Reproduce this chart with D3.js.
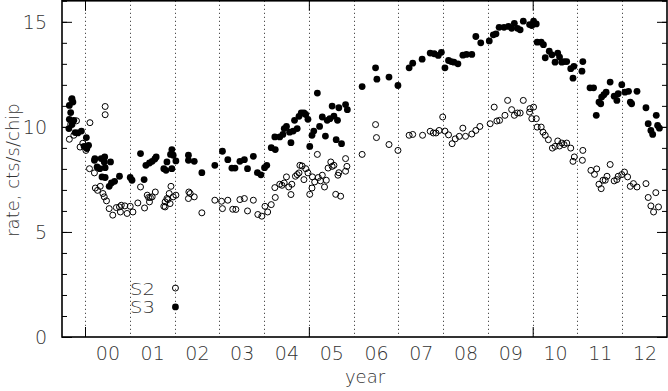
<!DOCTYPE html>
<html><head><meta charset="utf-8">
<script src="https://cdn.jsdelivr.net/npm/d3@7"></script>
<style>
html,body{margin:0;padding:0;background:#fff;}
svg{display:block;}
text{font-family:"DejaVu Sans",sans-serif;font-weight:200;fill:#333;}
</style></head>
<body>
<svg id="chart" width="668" height="391"></svg>
<script>
// ---- data ----
const yearStarts = [2000,2001,2002,2003,2004,2005,2006,2007,2008,2009,2010,2011,2012];
const yearLabels = ["00","01","02","03","04","05","06","07","08","09","10","11","12"];
const xMajorTicks = [2000,2005,2010];
const yLabelTicks = [0,5,10,15];
const yMinorTicks = [0,1,2,3,4,5,6,7,8,9,10,11,12,13,14,15,16];
const seriesNames = ["S2","S3"];
const legendRates = [2.33,1.43];
const legendYear = 2002.02;

// S3 (filled): [year, rate]
const s3 = [
[1999.71,11.34],[1999.73,11.18],[1999.65,11.02],[1999.68,10.68],[1999.65,10.36],[1999.75,10.31],
[1999.71,10.11],[1999.64,9.92],[1999.78,9.73],[1999.84,9.71],[1999.92,9.80],[2000.03,9.49],
[1999.98,9.07],[2000.08,9.12],[2000.04,8.97],[2000.22,8.49],[2000.21,8.41],[2000.36,8.49],
[2000.44,8.57],[2000.43,8.33],[2000.57,8.33],[2000.27,8.09],[2000.45,8.06],[2000.33,8.01],
[2000.38,7.62],[2000.45,7.59],[2000.54,7.17],[2000.59,7.33],[2000.66,7.41],[2000.77,7.65],
[2001.01,7.59],[2001.05,7.46],[2001.24,8.73],[2001.32,7.49],[2001.36,8.17],[2001.44,8.28],
[2001.50,8.36],[2001.56,8.47],[2001.59,8.57],[2001.76,8.01],[2001.83,8.33],[2001.91,8.69],
[2001.94,8.92],[2001.81,7.93],[2001.97,8.65],[2001.94,8.01],[2002.03,8.38],[2002.31,8.65],
[2002.31,8.41],[2002.44,8.36],[2002.61,7.82],[2002.90,8.17],[2003.07,8.84],[2003.19,8.44],
[2003.28,8.04],[2003.35,8.04],[2003.46,8.36],[2003.56,8.44],[2003.63,8.01],[2003.76,8.60],
[2003.85,7.82],[2003.93,7.72],[2004.01,8.06],[2004.06,8.17],[2004.16,9.01],[2004.25,8.92],
[2004.24,9.52],[2004.35,9.52],[2004.42,9.64],[2004.45,9.92],[2004.50,10.02],[2004.60,9.25],
[2004.57,9.75],[2004.65,9.80],[2004.68,10.31],[2004.74,9.92],[2004.78,10.50],[2004.83,10.66],
[2004.89,10.66],[2004.93,10.59],[2004.98,10.36],[2005.02,9.07],[2005.07,9.60],[2005.11,9.80],
[2005.19,11.61],[2005.24,10.02],[2005.30,10.47],[2005.37,9.56],[2005.41,10.31],[2005.47,10.39],
[2005.52,10.99],[2005.56,10.51],[2005.64,10.31],[2005.67,10.91],[2005.61,9.39],[2005.73,9.20],
[2005.82,11.06],[2005.86,10.82],[2006.19,11.92],[2006.49,12.81],[2006.52,12.27],[2006.79,12.37],
[2006.99,11.97],[2007.24,12.81],[2007.32,13.03],[2007.53,13.22],[2007.71,13.51],[2007.80,13.48],
[2007.89,13.40],[2007.96,13.55],[2008.04,12.81],[2008.12,13.16],[2008.18,13.11],[2008.24,13.08],
[2008.33,13.00],[2008.44,13.41],[2008.52,13.45],[2008.64,13.45],[2008.73,14.30],[2008.84,14.00],
[2009.03,14.09],[2009.12,14.38],[2009.18,14.43],[2009.25,14.74],[2009.36,14.74],[2009.46,14.78],
[2009.53,14.69],[2009.59,14.93],[2009.66,14.69],[2009.72,14.62],[2009.79,15.03],[2009.93,14.87],
[2009.98,14.82],[2010.02,15.03],[2010.08,14.90],[2010.10,14.03],[2010.19,14.03],[2010.24,13.91],
[2010.28,13.29],[2010.37,13.60],[2010.43,13.43],[2010.50,13.08],[2010.56,13.51],[2010.60,13.32],
[2010.65,13.08],[2010.70,13.11],[2010.76,13.11],[2010.85,12.77],[2010.90,12.32],[2010.92,12.88],
[2011.10,12.65],[2011.12,13.11],[2011.28,11.86],[2011.36,11.86],[2011.42,10.55],[2011.48,11.18],
[2011.52,11.10],[2011.54,11.42],[2011.59,11.53],[2011.64,11.65],[2011.73,12.13],[2011.82,11.46],
[2011.88,11.26],[2011.91,11.58],[2011.99,12.01],[2012.06,11.65],[2012.14,11.69],[2012.18,11.18],
[2012.21,11.10],[2012.33,11.69],[2012.53,10.91],[2012.58,10.15],[2012.64,9.83],[2012.68,9.64],
[2012.76,10.55],[2012.79,10.07],[2012.83,9.94]
];

// S2 (open): [year, rate]
const s2 = [
[1999.70,11.31],[1999.65,9.41],[1999.68,10.12],[1999.81,10.29],[1999.75,9.60],[1999.89,9.04],
[1999.95,9.22],[2000.02,8.88],[2000.11,10.20],[2000.45,10.97],[2000.45,10.58],[2000.10,8.01],
[2000.21,7.81],[2000.23,7.09],[2000.28,6.98],[2000.34,7.17],[2000.40,6.83],[2000.43,6.67],
[2000.48,6.48],[2000.54,6.11],[2000.62,5.80],[2000.70,6.16],[2000.77,6.19],[2000.81,6.27],
[2000.79,5.95],[2000.89,6.24],[2000.94,5.88],[2001.01,6.22],[2001.07,5.95],[2001.18,6.38],
[2001.24,7.14],[2001.33,6.14],[2001.39,6.75],[2001.42,6.64],[2001.46,6.64],[2001.44,6.43],
[2001.50,6.67],[2001.57,6.90],[2001.76,6.22],[2001.79,6.43],[2001.85,6.54],[2001.88,6.83],
[2001.92,7.17],[2001.83,6.59],[2001.90,6.35],[2001.97,6.67],[2002.03,6.75],[2001.79,6.19],
[2002.32,6.90],[2002.35,6.83],[2002.31,6.59],[2002.44,6.67],[2002.61,5.91],[2002.90,6.51],
[2003.05,6.46],[2003.19,6.51],[2003.07,6.11],[2003.30,6.08],[2003.37,6.07],[2003.46,6.54],
[2003.56,6.59],[2003.63,6.00],[2003.76,6.51],[2003.86,5.83],[2003.95,5.75],[2004.02,6.22],
[2004.08,5.95],[2004.16,6.30],[2004.25,6.64],[2004.24,7.11],[2004.35,7.27],[2004.40,7.22],
[2004.45,7.33],[2004.50,7.62],[2004.55,7.14],[2004.60,6.78],[2004.62,7.27],[2004.70,7.65],
[2004.74,7.73],[2004.78,7.81],[2004.80,8.17],[2004.85,8.14],[2004.89,7.49],[2004.93,8.01],
[2004.98,7.81],[2005.02,6.79],[2005.07,7.09],[2005.08,7.62],[2005.13,7.38],[2005.19,8.69],
[2005.21,7.59],[2005.26,7.43],[2005.30,7.70],[2005.35,7.14],[2005.39,7.46],[2005.43,8.04],
[2005.49,8.33],[2005.52,8.12],[2005.56,8.17],[2005.60,6.79],[2005.65,7.70],[2005.67,7.82],
[2005.71,6.70],[2005.82,7.89],[2005.85,8.12],[2005.82,8.49],[2006.19,8.69],[2006.49,10.11],
[2006.51,9.49],[2006.79,9.16],[2006.99,8.88],[2007.24,9.60],[2007.32,9.64],[2007.54,9.60],
[2007.71,9.79],[2007.78,9.71],[2007.84,9.71],[2007.91,9.83],[2007.99,10.47],[2008.04,9.80],
[2008.12,9.62],[2008.20,9.20],[2008.27,9.43],[2008.36,9.55],[2008.44,9.94],[2008.50,9.55],
[2008.64,9.66],[2008.73,9.83],[2008.82,10.02],[2009.05,10.15],[2009.14,10.94],[2009.20,10.28],
[2009.26,10.31],[2009.38,10.55],[2009.44,11.26],[2009.53,10.82],[2009.59,10.55],[2009.66,10.66],
[2009.72,10.66],[2009.79,11.26],[2009.93,10.70],[2009.94,10.87],[2009.98,10.39],[2010.02,10.94],
[2010.08,10.39],[2010.10,9.99],[2010.19,9.99],[2010.23,9.75],[2010.28,9.60],[2010.35,9.39],
[2010.44,8.99],[2010.50,9.07],[2010.56,9.33],[2010.60,9.09],[2010.65,9.23],[2010.70,9.16],
[2010.76,9.23],[2010.85,8.99],[2010.90,8.36],[2010.93,8.57],[2011.12,8.88],[2011.11,8.41],
[2011.30,7.93],[2011.38,7.74],[2011.43,8.00],[2011.48,7.27],[2011.53,7.06],[2011.57,7.46],
[2011.62,7.46],[2011.66,7.65],[2011.73,8.21],[2011.82,7.43],[2011.88,7.49],[2011.91,7.65],
[2011.99,7.73],[2012.05,7.85],[2012.12,7.62],[2012.18,7.17],[2012.25,7.30],[2012.33,7.14],
[2012.53,7.30],[2012.58,6.64],[2012.64,6.24],[2012.70,5.95],[2012.75,6.87],[2012.81,6.19]
];

// ---- drawing ----
const svg = d3.select("#chart");
const L = 62, R = 667, T = 0.8, B = 337;
const x = d3.scaleLinear().domain([1999.486, 2013.0]).range([L, R]);
const y = d3.scaleLinear().domain([0, 16]).range([B, T]);

// dotted year lines
svg.append("g").selectAll("line").data(yearStarts).join("line")
  .attr("x1", d => Math.round(x(d)) + 0.5).attr("x2", d => Math.round(x(d)) + 0.5)
  .attr("y1", T).attr("y2", B)
  .attr("stroke", "#222").attr("stroke-width", 1).attr("stroke-dasharray", "1,3");

// axes (ticks inward)
function styleAxis(g) {
  g.select(".domain").remove();
  g.selectAll(".tick line").attr("stroke", "#000").attr("stroke-width", 1);
  g.selectAll("text").style("font-size", "19px").style("font-family", "'DejaVu Sans',sans-serif")
    .attr("fill", "#333").style("font-weight", "200");
}
svg.append("g").attr("transform", `translate(${L},0)`)
  .call(d3.axisLeft(y).tickValues(yMinorTicks).tickSize(-5).tickFormat("")).call(styleAxis);
svg.append("g").attr("transform", `translate(${L},0)`)
  .call(d3.axisLeft(y).tickValues(yLabelTicks).tickSize(-10).tickPadding(15).tickFormat(d3.format("d")))
  .call(styleAxis)
  .call(g => g.selectAll("text").attr("dy", "0.36em"));
svg.append("g").attr("transform", `translate(${R},0)`)
  .call(d3.axisRight(y).tickValues(yMinorTicks).tickSize(-5).tickFormat("")).call(styleAxis);
svg.append("g").attr("transform", `translate(${R},0)`)
  .call(d3.axisRight(y).tickValues(yLabelTicks).tickSize(-10).tickFormat("")).call(styleAxis);
svg.append("g").attr("transform", `translate(0,${B})`)
  .call(d3.axisBottom(x).tickValues(xMajorTicks).tickSize(-10).tickFormat("")).call(styleAxis);
svg.append("g").attr("transform", `translate(0,${T})`)
  .call(d3.axisTop(x).tickValues(xMajorTicks).tickSize(-10).tickFormat("")).call(styleAxis);
// year labels centred in each year
svg.append("g").attr("transform", `translate(0,${B})`)
  .call(d3.axisBottom(x).tickValues(yearStarts.map(d => d + 0.5)).tickSize(0).tickPadding(10)
    .tickFormat((d, i) => yearLabels[i]))
  .call(styleAxis);

// frame
svg.append("rect").attr("x", L).attr("y", T).attr("width", R - L).attr("height", B - T)
  .attr("fill", "none").attr("stroke", "#000").attr("stroke-width", 1.6);

// axis titles
svg.append("text").attr("x", 365).attr("y", 383).attr("text-anchor", "middle")
  .style("font-size", "18px").text("year");
svg.append("text").attr("transform", "translate(19,170) rotate(-90)").attr("text-anchor", "middle")
  .style("font-size", "18px").text("rate, cts/s/chip");

// points
svg.append("g").selectAll("circle").data(s2).join("circle")
  .attr("cx", d => x(d[0])).attr("cy", d => y(d[1])).attr("r", 3)
  .attr("fill", "none").attr("stroke", "#000").attr("stroke-width", 1);
svg.append("g").selectAll("circle").data(s3).join("circle")
  .attr("cx", d => x(d[0])).attr("cy", d => y(d[1])).attr("r", 3.4)
  .attr("fill", "#000");

// legend
const lg = svg.append("g");
seriesNames.forEach((name, i) => {
  lg.append("text").attr("x", 130).attr("y", y(legendRates[i]) + 6.5)
    .attr("textLength", 25).attr("lengthAdjust", "spacingAndGlyphs")
    .style("font-size", "16.5px").text(name);
  const c = lg.append("circle").attr("cx", x(legendYear)).attr("cy", y(legendRates[i]));
  if (i === 0) c.attr("r", 3).attr("fill", "none").attr("stroke", "#000");
  else c.attr("r", 3.4).attr("fill", "#000");
});
</script>
</body></html>
